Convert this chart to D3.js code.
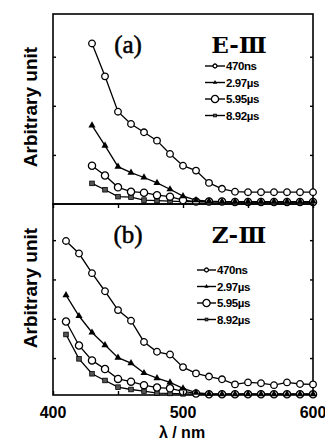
<!DOCTYPE html>
<html>
<head>
<meta charset="utf-8">
<script src="https://cdn.jsdelivr.net/npm/d3@7"></script>
<style>
  body { margin: 0; background: #fff; }
  svg { display: block; }
</style>
</head>
<body>
<div id="chart"></div>
<script>
// wavelengths (nm)
var waveA = [430, 440, 450, 460, 470, 480, 490, 500, 510, 520, 530, 540, 550, 560, 570, 580, 590, 600];
var waveB = [410, 420, 430, 440, 450, 460, 470, 480, 490, 500, 510, 520, 530, 540, 550, 560, 570, 580, 590, 600];

// panel (a) E-III
var a470 = [3.27, 2.60, 1.88, 1.63, 1.46, 1.29, 1.02, 0.78, 0.68, 0.43, 0.31, 0.25, 0.24, 0.24, 0.24, 0.24, 0.24, 0.24];
var a297 = [1.60, 1.19, 0.76, 0.64, 0.54, 0.43, 0.30, 0.16, 0.08, 0.06, 0.05, 0.05, 0.05, 0.05, 0.05, 0.05, 0.05, 0.05];
var a595 = [0.78, 0.58, 0.34, 0.25, 0.23, 0.18, 0.15, 0.08, 0.05, 0.05, 0.05, 0.04, 0.04, 0.04, 0.04, 0.04, 0.04, 0.04];
var a892 = [0.42, 0.29, 0.15, 0.14, 0.08, 0.07, 0.06, 0.05, 0.05, 0.04, 0.04, 0.04, 0.04, 0.04, 0.04, 0.04, 0.04, 0.04];

// panel (b) Z-III
var b470 = [3.98, 3.66, 3.16, 2.70, 2.22, 1.95, 1.41, 1.16, 1.09, 0.77, 0.61, 0.53, 0.46, 0.33, 0.38, 0.36, 0.31, 0.38, 0.34, 0.33];
var b297 = [2.60, 2.07, 1.65, 1.33, 1.01, 0.87, 0.62, 0.49, 0.38, 0.23, 0.12, 0.09, 0.08, 0.08, 0.08, 0.08, 0.08, 0.08, 0.08, 0.08];
var b595 = [1.93, 1.32, 0.94, 0.72, 0.47, 0.40, 0.31, 0.25, 0.23, 0.15, 0.10, 0.08, 0.08, 0.08, 0.08, 0.08, 0.08, 0.08, 0.08, 0.08];
var b892 = [1.60, 0.98, 0.60, 0.43, 0.26, 0.20, 0.16, 0.11, 0.10, 0.09, 0.08, 0.08, 0.08, 0.08, 0.08, 0.08, 0.08, 0.08, 0.08, 0.08];

var legendLabels = ["470ns", "2.97\u00b5s", "5.95\u00b5s", "8.92\u00b5s"];
var xTicks = [400, 450, 500, 550, 600];
var xTickLabels = [400, 500, 600];

var svg = d3.select("#chart").append("svg")
  .attr("width", 325)
  .attr("height", 443);

var left = 53, right = 313;
var x = d3.scaleLinear().domain([400, 600]).range([left, right]);

var panels = [
  { wave: waveA, series: [a470, a297, a595, a892], top: 14, bottom: 204, domain: [0, 3.87], ticks: [1, 2, 3],
    tag: "(a)", name: "E-\u2162", legX: 205, legY: 66, legW: 20, titleY: 107 },
  { wave: waveB, series: [b470, b297, b595, b892], top: 204, bottom: 395, domain: [0.06, 4.92], ticks: [1, 2, 3, 4],
    tag: "(b)", name: "Z-\u2162", legX: 197, legY: 270, legW: 19, titleY: 288 }
];

// draws a marker of a given kind at 0,0 inside g
function marker(g, kind, big) {
  var s = big ? 1 : 0.6;
  if (kind == 0 || kind == 2) {
    g.append("circle").attr("r", (kind == 0 ? 3.3 : 3.6) * s)
      .attr("fill", "#fff").attr("stroke", "#000").attr("stroke-width", 1.3);
  } else if (kind == 1) {
    g.append("path").attr("d", d3.symbol().type(d3.symbolTriangle).size(22 * s * s))
      .attr("fill", "#000");
  } else {
    g.append("rect").attr("x", -2.3 * s).attr("y", -2.3 * s).attr("width", 4.6 * s).attr("height", 4.6 * s)
      .attr("fill", "#555").attr("stroke", "#000").attr("stroke-width", 0.8);
  }
}

panels.forEach(function(p) {
  var y = d3.scaleLinear().domain(p.domain).range([p.bottom, p.top]);
  var g = svg.append("g");

  // frame
  g.append("rect")
    .attr("x", left).attr("y", p.top)
    .attr("width", right - left).attr("height", p.bottom - p.top)
    .attr("fill", "none").attr("stroke", "#000").attr("stroke-width", 1.6);

  // y ticks, inward on both sides
  g.append("g").attr("transform", "translate(" + left + ",0)")
    .call(d3.axisRight(y).tickValues(p.ticks).tickSize(3).tickFormat(""))
    .call(function(a) { a.select(".domain").remove(); a.selectAll("line").attr("stroke-width", 1.4); });
  g.append("g").attr("transform", "translate(" + right + ",0)")
    .call(d3.axisLeft(y).tickValues(p.ticks).tickSize(3).tickFormat(""))
    .call(function(a) { a.select(".domain").remove(); a.selectAll("line").attr("stroke-width", 1.4); });

  // lines and markers
  var line = d3.line()
    .x(function(d, i) { return x(p.wave[i]); })
    .y(function(d) { return y(d); });

  p.series.forEach(function(vals, k) {
    g.append("path").datum(vals)
      .attr("d", line)
      .attr("fill", "none").attr("stroke", "#000").attr("stroke-width", 1.3);
  });
  // draw the bottom series first so the upper ones sit on top where they merge
  [3, 2, 1, 0].forEach(function(k) {
    p.series[k].forEach(function(v, i) {
      var m = g.append("g").attr("transform", "translate(" + x(p.wave[i]) + "," + y(v) + ")");
      marker(m, k, true);
    });
  });

  // panel label and compound name
  g.append("text").attr("x", 128).attr("y", p.top + 39)
    .attr("text-anchor", "middle")
    .attr("font-family", "'Liberation Serif', 'DejaVu Serif', serif")
    .attr("font-size", 25)
    .attr("stroke", "#000").attr("stroke-width", 0.5)
    .text(p.tag);
  g.append("text").attr("x", 239).attr("y", p.top + 39)
    .attr("text-anchor", "middle")
    .attr("font-family", "'DejaVu Serif', 'Liberation Serif', serif")
    .attr("font-weight", "bold")
    .attr("font-size", 23).text(p.name);

  // legend
  legendLabels.forEach(function(lab, k) {
    var ly = p.legY + k * 16.5;
    g.append("line").attr("x1", p.legX).attr("x2", p.legX + p.legW)
      .attr("y1", ly).attr("y2", ly).attr("stroke", "#000").attr("stroke-width", 1.4);
    var m = g.append("g").attr("transform", "translate(" + (p.legX + p.legW / 2) + "," + ly + ")");
    marker(m, k, k == 2);
    g.append("text").attr("x", p.legX + p.legW + 1).attr("y", ly + 4)
      .attr("font-family", "'Liberation Sans Narrow', 'Liberation Sans', Arial, sans-serif")
      .attr("font-weight", "bold").attr("font-size", 11.5)
      .attr("letter-spacing", -0.4)
      .text(lab);
  });

  // y axis title
  g.append("text")
    .attr("transform", "translate(37," + p.titleY + ")rotate(-90)")
    .attr("text-anchor", "middle")
    .attr("font-family", "'Liberation Sans', Arial, sans-serif")
    .attr("font-weight", "bold").attr("font-size", 19)
    .text("Arbitrary unit");
});

// bottom x axis, ticks inward
var yb = 395;
svg.append("g").attr("transform", "translate(0," + yb + ")")
  .call(d3.axisTop(x).tickValues(xTicks).tickSize(4).tickFormat(""))
  .call(function(a) { a.select(".domain").remove(); a.selectAll("line").attr("stroke-width", 1.4); });
svg.append("g").attr("transform", "translate(0,204)")
  .call(d3.axisBottom(x).tickValues(xTicks).tickSize(4).tickFormat(""))
  .call(function(a) { a.select(".domain").remove(); a.selectAll("line").attr("stroke-width", 1.4); });

svg.selectAll(".xlab").data(xTickLabels).enter().append("text")
  .attr("class", "xlab")
  .attr("x", function(d) { return x(d); })
  .attr("y", 418)
  .attr("text-anchor", "middle")
  .attr("font-family", "'Liberation Sans', Arial, sans-serif")
  .attr("font-weight", "bold").attr("font-size", 16)
  .text(function(d) { return d; });

svg.append("text")
  .attr("x", 182).attr("y", 438)
  .attr("text-anchor", "middle")
  .attr("font-family", "'Liberation Sans', Arial, sans-serif")
  .attr("font-weight", "bold").attr("font-size", 16)
  .text("\u03bb / nm");
</script>
</body>
</html>
